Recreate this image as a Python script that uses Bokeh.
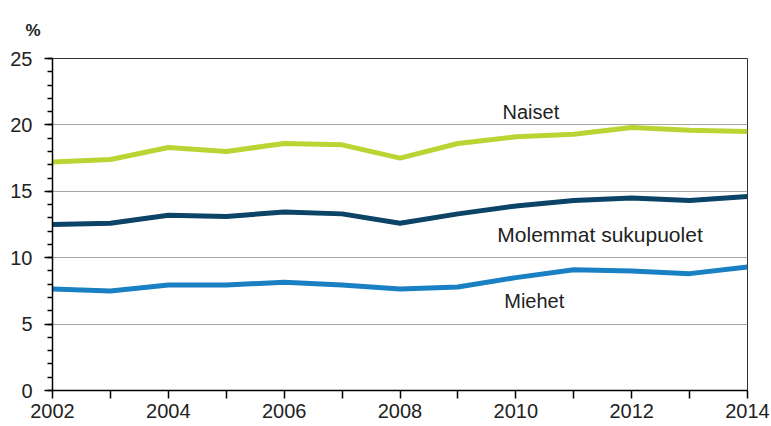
from bokeh.plotting import figure
from bokeh.models import ColumnDataSource, FixedTicker, Label, Range1d, Title
from bokeh.embed import file_html
from bokeh.resources import INLINE

years = [2002, 2003, 2004, 2005, 2006, 2007, 2008, 2009, 2010, 2011, 2012, 2013, 2014]
naiset = [17.2, 17.4, 18.3, 18.0, 18.6, 18.5, 17.5, 18.6, 19.1, 19.3, 19.8, 19.6, 19.5]
molemmat = [12.5, 12.6, 13.2, 13.1, 13.45, 13.3, 12.6, 13.3, 13.9, 14.3, 14.5, 14.3, 14.6]
miehet = [7.65, 7.5, 7.95, 7.95, 8.15, 7.95, 7.65, 7.8, 8.5, 9.1, 9.0, 8.8, 9.3]

x_major = [2002, 2004, 2006, 2008, 2010, 2012, 2014]
x_minor = [2003, 2005, 2007, 2009, 2011, 2013]
y_major = [0, 5, 10, 15, 20, 25]
y_minor = list(range(0, 26))

src = ColumnDataSource(dict(year=years, naiset=naiset, molemmat=molemmat, miehet=miehet))

FONT = "Liberation Sans"

p = figure(width=771, height=426, output_backend="svg", toolbar_location=None,
           x_range=Range1d(2002, 2014), y_range=Range1d(0, 25),
           min_border_left=52, min_border_right=24, min_border_top=57, min_border_bottom=36)
p.background_fill_color = "white"
p.border_fill_color = "white"
p.outline_line_color = "#333333"
p.outline_line_width = 1

p.line("year", "naiset", source=src, line_color="#bcd433", line_width=5)
p.line("year", "molemmat", source=src, line_color="#0b4466", line_width=5)
p.line("year", "miehet", source=src, line_color="#1a80c4", line_width=5)

# axes
p.xaxis.ticker = FixedTicker(ticks=x_major, minor_ticks=x_minor)
p.yaxis.ticker = FixedTicker(ticks=y_major, minor_ticks=y_minor)
for ax in (p.xaxis, p.yaxis):
    ax.axis_line_color = "black"
    ax.axis_line_width = 1.5
    ax.major_tick_line_color = "black"
    ax.minor_tick_line_color = "black"
    ax.major_tick_line_width = 1.5
    ax.minor_tick_line_width = 1.5
    ax.major_tick_in = 0
    ax.minor_tick_in = 0
    ax.major_label_text_font = FONT
    ax.major_label_text_color = "#222222"
p.xaxis.major_tick_out = 8
p.xaxis.minor_tick_out = 8
p.xaxis.major_label_text_font_size = "20px"
p.xaxis.major_label_standoff = 5
p.yaxis.major_tick_out = 8
p.yaxis.minor_tick_out = 5
p.yaxis.major_label_text_font_size = "20px"
p.yaxis.major_label_standoff = 12

p.xgrid.grid_line_color = None
p.ygrid.ticker = FixedTicker(ticks=[5, 10, 15, 20])
p.ygrid.grid_line_color = "#a6a6a6"
p.ygrid.grid_line_width = 1

# texts
p.add_layout(Title(text="%", align="left", offset=-27, standoff=37, text_font=FONT,
                   text_font_size="17px", text_font_style="bold", text_color="#222222"),
             "above")
p.add_layout(Label(x=2009.77, y=21.0, text="Naiset", text_font=FONT, text_font_size="20px",
                   text_align="left", text_baseline="alphabetic", text_color="#222222"))
p.add_layout(Label(x=2009.68, y=11.75, text="Molemmat sukupuolet", text_font=FONT,
                   text_font_size="21px", text_align="left", text_baseline="alphabetic",
                   text_color="#222222"))
p.add_layout(Label(x=2009.8, y=6.75, text="Miehet", text_font=FONT, text_font_size="20px",
                   text_align="left", text_baseline="alphabetic", text_color="#222222"))

open("out.html", "w").write(file_html(p, INLINE))
